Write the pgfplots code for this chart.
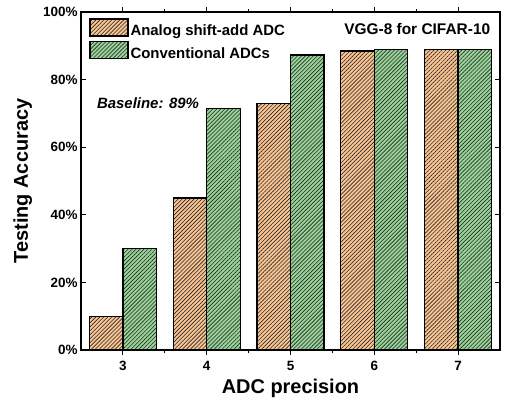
\documentclass[border=0pt]{standalone}
\usepackage{fontspec}
\setmainfont{Liberation Sans}
\usepackage{pgfplots}
\pgfplotsset{compat=1.18}
\usetikzlibrary{patterns.meta}
\definecolor{peach}{RGB}{250,196,146}
\definecolor{lgreen}{RGB}{152,212,152}
\tikzset{hatch/.style={postaction={pattern={Lines[angle=45,distance=2.8bp,line width=0.6bp]},pattern color=black!85}}}
\pgfplotsset{boxlegend/.style={legend image code/.code={\draw[##1] (0bp,-5bp) rectangle (38bp,12bp);}}}
\begin{document}
\begin{tikzpicture}
\begin{axis}[
 scale only axis, width=419bp, height=338bp,
 xmin=2.5, xmax=7.5, ymin=0, ymax=100,
 clip=false,
 xtick={3,4,5,6,7}, minor xtick={3.5,4.5,5.5,6.5},
 ytick={0,20,40,60,80,100},
 yticklabels={0\%,20\%,40\%,60\%,80\%,100\%},
 tick align=inside,
 major tick length=5bp, minor tick length=3bp,
 axis line style={line width=1.6bp},
 every tick/.style={black, line width=1bp},
 /pgf/number format/assume math mode=true,
 tick label style={font=\fontsize{13.5}{15}\selectfont\bfseries},
 xticklabel style={yshift=-3bp},
 xlabel={ADC precision}, ylabel={Testing Accuracy},
 label style={font=\fontsize{20}{22}\selectfont\bfseries},
 xlabel style={at={(axis description cs:0.5,-0.112)}, anchor=center},
 ylabel style={at={(axis description cs:-0.139,0.5)}, anchor=center},
 ybar, bar width=0.4,
 legend style={at={(axis description cs:0.012,0.988)}, anchor=north west, draw=none, fill=none,
   font=\fontsize{15}{17}\selectfont\bfseries, row sep=2bp,
   /tikz/every even column/.append style={column sep=0bp}},
 legend cell align=left,
]
\addplot[draw=black, line width=1.3bp, fill=peach, hatch, bar shift=-0.2, boxlegend]
  coordinates {(3,10) (4,45) (5,73) (6,88.5) (7,89)};
\addlegendentry{Analog shift-add ADC}
\addplot[draw=black, line width=1.3bp, fill=lgreen, hatch, bar shift=0.2, boxlegend]
  coordinates {(3,30) (4,71.5) (5,87.3) (6,89) (7,89)};
\addlegendentry{Conventional ADCs}
\node[anchor=east, font=\fontsize{15.5}{17}\selectfont\bfseries] at (rel axis cs:0.985,0.95) {VGG-8 for CIFAR-10};
\node[anchor=west, font=\fontsize{15}{17}\selectfont\bfseries\itshape] at (axis cs:2.65,73) {Baseline: 89\%};
\path (rel axis cs:0,0) ++(-81bp,-51bp) coordinate (bbsw);
\path (rel axis cs:1,1) ++(6bp,12bp) coordinate (bbne);
\end{axis}
\useasboundingbox (bbsw) rectangle (bbne);
\end{tikzpicture}
\end{document}
